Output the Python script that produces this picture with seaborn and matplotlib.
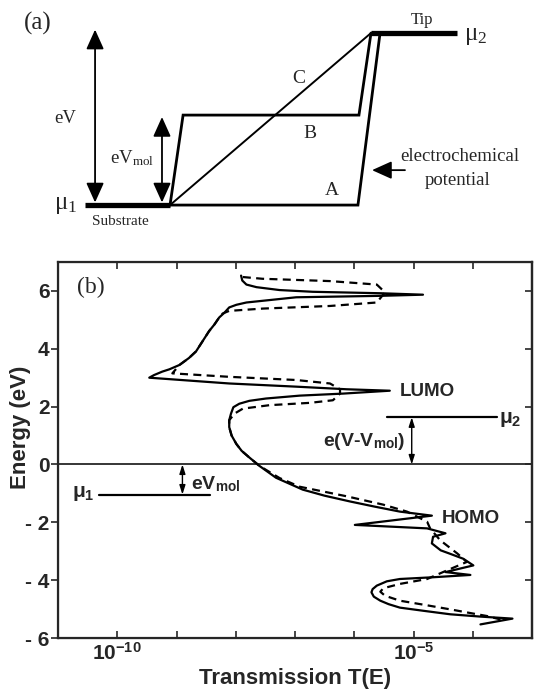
import numpy as np
import seaborn as sns
import matplotlib.pyplot as plt
from matplotlib.ticker import NullLocator

# ---------------- panel (b): transmission T(E) (log10 T) ----------------
solid_E = [6.53, 6.36, 6.22, 6.13, 6.03, 5.97, 5.92, 5.87, 5.83, 5.78, 5.60, 5.52,
           5.43, 5.25, 5.08, 4.84, 4.61, 4.26, 3.91, 3.68, 3.44, 3.29, 3.21, 3.09,
           3.00, 2.80, 2.69, 2.60, 2.55, 2.45, 2.38, 2.28, 2.20, 2.10, 1.98, 1.76,
           1.53, 1.29, 1.00, 0.71, 0.47, 0.24, -0.05, -0.46, -0.87, -1.08, -1.28,
           -1.46, -1.63, -1.77, -2.09, -2.21, -2.38, -2.50, -2.73, -2.97, -3.09,
           -3.26, -3.49, -3.72, -3.82, -3.90, -3.96, -4.04, -4.19, -4.31, -4.42,
           -4.57, -4.71, -4.83, -4.95, -5.06, -5.18, -5.26, -5.33, -5.53]
solid_logT = [-7.91, -7.89, -7.82, -7.65, -7.26, -6.70, -5.56, -4.84, -5.56, -6.98,
              -7.82, -7.99, -8.11, -8.19, -8.28, -8.36, -8.45, -8.56, -8.67, -8.79,
              -8.95, -9.12, -9.24, -9.38, -9.46, -8.11, -6.98, -6.13, -5.40, -6.19,
              -6.92, -7.49, -7.77, -7.94, -8.04, -8.08, -8.11, -8.11, -8.07, -7.99,
              -7.90, -7.77, -7.60, -7.32, -6.87, -6.50, -6.07, -5.65, -5.23, -4.69,
              -5.99, -4.77, -4.46, -4.67, -4.69, -4.54, -4.38, -4.16, -3.99, -4.46,
              -4.04, -4.67, -5.23, -5.45, -5.62, -5.69, -5.71, -5.67, -5.56, -5.42,
              -5.23, -4.83, -4.38, -3.87, -3.33, -3.87]

dashed_E = [6.48, 6.42, 6.34, 6.22, 5.95, 5.60, 5.48, 5.39, 5.31, 5.22, 5.08, 4.84,
            4.61, 4.26, 3.91, 3.68, 3.44, 3.15, 3.03, 2.92, 2.80, 2.60, 2.45, 2.22,
            2.13, 2.05, 1.93, 1.76, 1.53, 1.29, 1.00, 0.71, 0.47, 0.24, -0.05, -0.47,
            -0.77, -1.10, -1.39, -1.63, -1.98, -2.21, -2.62, -3.08, -3.37, -3.72,
            -3.96, -4.13, -4.28, -4.40, -4.54, -4.71, -4.87, -5.01, -5.16, -5.24, -5.36]
dashed_logT = [-7.88, -7.55, -6.41, -5.62, -5.48, -5.62, -6.41, -7.54, -8.11, -8.22,
               -8.28, -8.36, -8.45, -8.56, -8.67, -8.79, -8.95, -9.07, -8.11, -6.98,
               -6.41, -6.24, -6.24, -6.36, -6.75, -7.43, -7.88, -8.02, -8.11, -8.11,
               -8.07, -7.99, -7.90, -7.77, -7.60, -7.26, -6.92, -6.13, -5.51, -5.11,
               -4.77, -4.72, -4.55, -4.26, -4.10, -4.50, -4.77, -5.23, -5.51, -5.56,
               -5.48, -5.23, -4.77, -4.38, -3.98, -3.76, -3.53]

energy_ticks = [-6, -4, -2, 0, 2, 4, 6]
energy_ticklabels = ['- 6', '- 4', '- 2', '0', '2', '4', '6']
trans_tick_exp = [-11, -10, -9, -8, -7, -6, -5, -4, -3]
trans_ticklabels = ['', r'$\mathbf{10^{-10}}$', '', '', '', '', r'$\mathbf{10^{-5}}$', '', '']

mu1_level = -1.04
mu2_level = 1.63
mu1_span = [-10.31, -8.43]     # log10 T extent of the mu1 bar
mu2_span = [-5.45, -3.59]      # log10 T extent of the mu2 bar
evmol_arrow_x = -8.90
evvmol_arrow_x = -5.03

# ---------------- panel (a): schematic potential profiles (position, energy / eV) ----------------
substrate_x, substrate_E = [-0.423, 0.0], [0.0, 0.0]
tip_x, tip_E = [1.0, 1.428], [1.0, 1.0]
profile_A_x, profile_A_E = [0.0, 0.935, 1.045], [0.0, 0.0, 1.0]
profile_B_x, profile_B_E = [0.0, 0.065, 0.940, 1.0], [0.0, 0.523, 0.523, 1.0]
profile_C_x, profile_C_E = [0.0, 1.0], [0.0, 1.0]
vmol_fraction = 0.512

sns.set_style("ticks")
plt.rcParams['font.family'] = ['Liberation Sans', 'DejaVu Sans']
plt.rcParams['mathtext.fontset'] = 'custom'
plt.rcParams['mathtext.rm'] = 'Liberation Serif'
plt.rcParams['mathtext.it'] = 'Liberation Serif:italic'
plt.rcParams['mathtext.bf'] = 'Liberation Sans:bold'
plt.rcParams['mathtext.sf'] = 'Liberation Sans'

fig = plt.figure(figsize=(5.34, 6.90), dpi=100)

# ======================= panel (a) =======================
ax_a = fig.add_axes([0, 1 - 235 / 690, 1, 235 / 690])
ax_a.set_xlim(-0.846, 1.811)
ax_a.set_ylim(-0.174, 1.192)
ax_a.set_axis_off()

thick = dict(color='k', lw=3.8, solid_capstyle='butt', sort=False, estimator=None)
thin = dict(color='k', lw=2.0, solid_joinstyle='miter', sort=False, estimator=None)
sns.lineplot(x=substrate_x, y=substrate_E, ax=ax_a, **thick)
sns.lineplot(x=tip_x, y=tip_E, ax=ax_a, **thick)
sns.lineplot(x=profile_A_x, y=profile_A_E, ax=ax_a, **thin)
sns.lineplot(x=profile_B_x, y=profile_B_E, ax=ax_a, **thin)
sns.lineplot(x=profile_C_x, y=profile_C_E, ax=ax_a, color='k', lw=1.4, sort=False, estimator=None)

big_head = dict(arrowstyle='<|-|>,head_length=0.6,head_width=0.27', mutation_scale=20,
                color='k', lw=1.3, shrinkA=0, shrinkB=0)
ax_a.annotate('', xy=(-0.373, 1.02), xytext=(-0.373, 0.015), arrowprops=big_head)
ax_a.annotate('', xy=(-0.04, vmol_fraction), xytext=(-0.04, 0.015), arrowprops=big_head)
ax_a.annotate('', xy=(1.005, 0.203), xytext=(1.169, 0.203),
              arrowprops=dict(arrowstyle='-|>,head_length=0.6,head_width=0.27',
                              mutation_scale=20, color='k', lw=1.3, shrinkA=0, shrinkB=0))

serif = dict(family='Liberation Serif', ha='center', va='center')
ax_a.text(-0.657, 1.058, '(a)', fontsize=18, **serif)
ax_a.text(-0.522, 0.506, 'eV', fontsize=13.5, **serif)
ax_a.text(-0.19, 0.27, r'eV$_{\mathrm{mol}}$', fontsize=13.5, **serif)
ax_a.text(-0.52, 0.0, r'μ$_{\mathrm{1}}$', fontsize=18, **serif)
ax_a.text(-0.249, -0.093, 'Substrate', fontsize=11, **serif)
ax_a.text(1.252, 1.076, 'Tip', fontsize=12, **serif)
ax_a.text(1.52, 0.98, r'μ$_{\mathrm{2}}$', fontsize=18, **serif)
ax_a.text(0.638, 0.737, 'C', fontsize=14, **serif)
ax_a.text(0.697, 0.417, 'B', fontsize=14, **serif)
ax_a.text(0.804, 0.087, 'A', fontsize=14, **serif)
ax_a.text(1.443, 0.281, 'electrochemical', fontsize=13.5, **serif)
ax_a.text(1.430, 0.145, 'potential', fontsize=13.5, **serif)

# ======================= panel (b) =======================
ax = fig.add_axes([58 / 534, 1 - 638 / 690, 474 / 534, 376 / 690])
ax.set_xscale('log')

solid_T = 10.0 ** np.array(solid_logT)
dashed_T = 10.0 ** np.array(dashed_logT)
sns.lineplot(x=dashed_T, y=dashed_E, ax=ax, color='k', lw=1.6, linestyle=(0, (3.6, 2.4)),
             sort=False, estimator=None)
sns.lineplot(x=solid_T, y=solid_E, ax=ax, color='k', lw=1.6, sort=False, estimator=None)

ax.set_xlim(1e-11, 1e-3)
ax.set_ylim(-6, 7)
ax.axhline(0, color='k', lw=1.1)

# chemical potential bars and arrows
ax.plot(10.0 ** np.array(mu1_span), [mu1_level, mu1_level], color='k', lw=1.6)
ax.plot(10.0 ** np.array(mu2_span), [mu2_level, mu2_level], color='k', lw=1.6)
small_head = dict(arrowstyle='<|-|>,head_length=0.5,head_width=0.16', mutation_scale=11,
                  color='k', lw=1.0, shrinkA=0, shrinkB=0)
ax.annotate('', xy=(10 ** evmol_arrow_x, 0), xytext=(10 ** evmol_arrow_x, mu1_level),
            arrowprops=small_head)
ax.annotate('', xy=(10 ** evvmol_arrow_x, 0), xytext=(10 ** evvmol_arrow_x, mu2_level),
            arrowprops=small_head)

bold = dict(family='Liberation Sans', fontweight='bold', va='center')
ax.text(10 ** -10.45, 6.13, '(b)', family='Liberation Serif', fontsize=17, ha='center', va='center')
ax.text(10 ** -5.225, 2.51, 'LUMO', fontsize=13.5, ha='left', **bold)
ax.text(10 ** -4.52, -1.86, 'HOMO', fontsize=13.5, ha='left', **bold)
ax.text(10 ** -3.55, 1.55, r'μ$_{\mathbf{2}}$', fontsize=15, ha='left', **bold)
ax.text(10 ** -10.39, -1.0, r'μ$_{\mathbf{1}}$', fontsize=15, ha='right', **bold)
ax.text(10 ** -5.14, 0.79, r'e(V-V$_{\mathbf{mol}}$)', fontsize=14, ha='right', **bold)
ax.text(10 ** -8.756, -0.68, r'eV$_{\mathbf{mol}}$', fontsize=14, ha='left', **bold)

# axes, ticks and labels
ax.set_xticks(10.0 ** np.array(trans_tick_exp))
ax.set_xticklabels(trans_ticklabels, fontsize=15)
ax.xaxis.set_minor_locator(NullLocator())
ax.set_yticks(energy_ticks)
ax.set_yticklabels(energy_ticklabels, fontsize=15, fontweight='bold')
ax.tick_params(axis='x', which='both', direction='in', top=True, bottom=True,
               length=5, width=1.2, pad=3)
ax.tick_params(axis='y', direction='out', length=5, width=1.2, pad=1)
for s in ax.spines.values():
    s.set_visible(True)
    s.set_linewidth(1.6)

ax_r = ax.twinx()
ax_r.set_ylim(ax.get_ylim())
ax_r.set_yticks(energy_ticks)
ax_r.tick_params(axis='y', direction='in', length=5, width=1.2, labelright=False)
ax_r.spines['right'].set_linewidth(1.6)

ax.set_xlabel('Transmission T(E)', fontsize=16, fontweight='bold')
ax.set_ylabel('Energy (eV)', fontsize=16, fontweight='bold')
ax.xaxis.set_label_coords(0.5, -0.08)
ax.yaxis.set_label_coords(-0.058, 0.56)

fig.savefig('out.png', dpi=100)
